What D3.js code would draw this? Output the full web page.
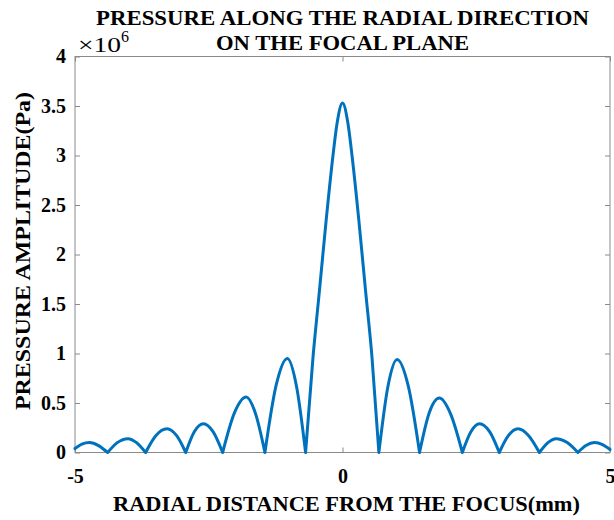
<!DOCTYPE html>
<html><head><meta charset="utf-8">
<script src="https://cdn.jsdelivr.net/npm/d3@7"></script>
<style>
body{margin:0;background:#fff}
svg{display:block}
text{font-family:"Liberation Serif","Times New Roman",serif;fill:#000}
</style>
</head><body>
<svg id="c" width="614" height="520"></svg>
<script>
// Radial distance (mm) and pressure amplitude (x10^6 Pa)
const radialMm = [
  -5.00, -4.87, -4.73, -4.56, -4.39,
  -4.21, -4.01, -3.85, -3.68,
  -3.49, -3.28, -3.10, -2.93,
  -2.77, -2.60, -2.42, -2.24,
  -2.02, -1.80, -1.63, -1.45,
  -1.24, -1.03, -0.86, -0.69,
  -0.55, -0.43, -0.31, -0.18, -0.10, 0.00, 0.10, 0.18, 0.31, 0.43, 0.55, 0.68,
  0.85, 1.02, 1.23, 1.44,
  1.62, 1.81, 2.02, 2.24,
  2.40, 2.56, 2.75, 2.93,
  3.10, 3.28, 3.48, 3.68,
  3.84, 3.99, 4.20, 4.40,
  4.55, 4.71, 4.86, 5.00
];
const pressure = [
  0.04, 0.085, 0.10, 0.07, 0,
  0.10, 0.14, 0.10, 0,
  0.17, 0.24, 0.17, 0,
  0.21, 0.29, 0.21, 0,
  0.40, 0.56, 0.40, 0,
  0.68, 0.95, 0.67, 0,
  0.97, 1.64, 2.32, 2.99, 3.33, 3.53, 3.33, 2.99, 2.32, 1.64, 0.97, 0,
  0.67, 0.94, 0.67, 0,
  0.40, 0.55, 0.39, 0,
  0.21, 0.29, 0.21, 0,
  0.17, 0.24, 0.17, 0,
  0.10, 0.14, 0.10, 0,
  0.07, 0.10, 0.08, 0.03
];
const yTicks = [0, 0.5, 1, 1.5, 2, 2.5, 3, 3.5, 4];
const xTicks = [-5, 0, 5];
const titleLines = ["PRESSURE ALONG THE RADIAL DIRECTION", "ON THE FOCAL PLANE"];
const xLabel = "RADIAL DISTANCE FROM THE FOCUS(mm)";
const yLabel = "PRESSURE AMPLITUDE(Pa)";

const svg = d3.select("#c");
const L = 75, R = 610, T = 56.5, B = 452.5;
const x = d3.scaleLinear().domain([-5, 5]).range([L, R]);
const y = d3.scaleLinear().domain([0, 4]).range([B, T]);
const axisColor = "#8a8a8a";

// box
svg.append("rect").attr("x", L).attr("y", T).attr("width", R - L).attr("height", B - T)
  .attr("fill", "none").attr("stroke", axisColor).attr("stroke-width", 1);

function styleAxis(g) {
  g.select(".domain").remove();
  g.selectAll(".tick line").attr("stroke", axisColor);
  g.selectAll(".tick text").attr("font-family", '"Liberation Serif","Times New Roman",serif')
    .attr("font-weight", "bold").attr("font-size", 20).attr("fill", "#000");
}
svg.append("g").attr("transform", `translate(${L},0)`)
  .call(d3.axisLeft(y).tickValues(yTicks).tickSize(-5).tickPadding(9).tickFormat(d => String(d)))
  .call(styleAxis);
svg.append("g").attr("transform", `translate(${R},0)`)
  .call(d3.axisRight(y).tickValues(yTicks).tickSize(-5).tickFormat(""))
  .call(styleAxis);
svg.append("g").attr("transform", `translate(0,${B})`)
  .call(d3.axisBottom(x).tickValues(xTicks).tickSize(-5).tickPadding(16).tickFormat(d => String(d)))
  .call(styleAxis);
svg.append("g").attr("transform", `translate(0,${T})`)
  .call(d3.axisTop(x).tickValues(xTicks).tickSize(-5).tickFormat(""))
  .call(styleAxis);

// curve: split into lobes at interior zeros so each zero is a cusp
const pts = radialMm.map((r, i) => [r, pressure[i]]);
const segs = [];
let cur = [];
pts.forEach((p, i) => {
  cur.push(p);
  if (p[1] === 0 && i > 0 && i < pts.length - 1) { segs.push(cur); cur = [p]; }
});
if (cur.length > 1) segs.push(cur);
const line = d3.line().x(d => x(d[0])).y(d => y(d[1])).curve(d3.curveMonotoneX);
svg.append("path").attr("d", segs.map(s => line(s)).join(""))
  .attr("fill", "none").attr("stroke", "#0072BD").attr("stroke-width", 3)
  .attr("stroke-linejoin", "round").attr("stroke-linecap", "round");

// exponent label
const ex = svg.append("text").attr("x", 78).attr("y", 52).attr("font-size", 21);
ex.append("tspan").attr("textLength", 43).attr("lengthAdjust", "spacingAndGlyphs").text("\u00d710");
ex.append("tspan").attr("dy", -10).attr("font-size", 16).text("6");

// titles
const cx = (L + R) / 2;
const titleW = [493, 253];
svg.selectAll("text.title").data(titleLines).enter().append("text")
  .attr("class", "title").attr("x", cx).attr("y", (d, i) => 24.5 + i * 25.5)
  .attr("text-anchor", "middle").attr("font-weight", "bold").attr("font-size", 22)
  .attr("textLength", (d, i) => titleW[i]).attr("lengthAdjust", "spacingAndGlyphs").text(d => d);
svg.append("text").attr("x", 346.5).attr("y", 511).attr("text-anchor", "middle")
  .attr("font-weight", "bold").attr("font-size", 22)
  .attr("textLength", 467).attr("lengthAdjust", "spacingAndGlyphs").text(xLabel);
svg.append("text").attr("transform", `translate(30,251) rotate(-90)`)
  .attr("text-anchor", "middle").attr("font-weight", "bold").attr("font-size", 22)
  .attr("textLength", 318).attr("lengthAdjust", "spacingAndGlyphs").text(yLabel);
</script>
</body></html>
